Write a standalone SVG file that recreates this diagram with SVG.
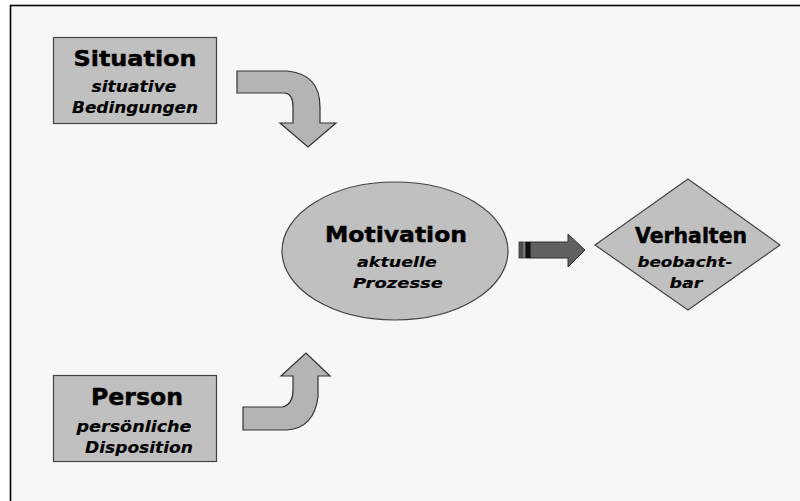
<svg xmlns="http://www.w3.org/2000/svg" width="800" height="501" viewBox="0 0 800 501">
  <style>
    .node { fill: #c0c0c0; stroke: #444; stroke-width: 1.2; }
    .title { font-family: "DejaVu Sans", Verdana, sans-serif; font-weight: bold; fill: #000; stroke: #000; stroke-width: 0.45; text-anchor: middle; }
    .sub { font-family: "DejaVu Sans", Verdana, sans-serif; font-weight: bold; font-style: italic; fill: #000; stroke: #000; stroke-width: 0.15; text-anchor: middle; }
    .curve { fill: #b4b4b4; stroke: #333; stroke-width: 1.2; stroke-linejoin: miter; }
  </style>
  <rect x="0" y="0" width="800" height="501" fill="#ffffff"/>
  <rect x="10.5" y="5.5" width="900" height="600" fill="#f7f7f7" stroke="#000" stroke-width="1.6"/>

  <g id="situation">
    <rect class="node" x="53.5" y="37.5" width="163" height="86"/>
    <text class="title" x="135" y="66" font-size="21.5" textLength="123" lengthAdjust="spacingAndGlyphs">Situation</text>
    <text class="sub" x="134" y="92" font-size="15" textLength="85" lengthAdjust="spacingAndGlyphs">situative</text>
    <text class="sub" x="135" y="113" font-size="15" textLength="126" lengthAdjust="spacingAndGlyphs">Bedingungen</text>
  </g>

  <g id="person">
    <rect class="node" x="53.5" y="375.5" width="163" height="86"/>
    <text class="title" x="137" y="405" font-size="22.5" textLength="92" lengthAdjust="spacingAndGlyphs">Person</text>
    <text class="sub" x="134" y="432" font-size="15" textLength="115" lengthAdjust="spacingAndGlyphs">persönliche</text>
    <text class="sub" x="139" y="453" font-size="15" textLength="108" lengthAdjust="spacingAndGlyphs">Disposition</text>
  </g>

  <g id="motivation">
    <ellipse class="node" cx="395" cy="251" rx="113" ry="69"/>
    <text class="title" x="396" y="242" font-size="21.5" textLength="142" lengthAdjust="spacingAndGlyphs">Motivation</text>
    <text class="sub" x="397" y="267" font-size="13.5" textLength="80" lengthAdjust="spacingAndGlyphs">aktuelle</text>
    <text class="sub" x="398" y="288" font-size="13.5" textLength="90" lengthAdjust="spacingAndGlyphs">Prozesse</text>
  </g>

  <g id="verhalten">
    <polygon class="node" points="688,179 780,245 688,310 595,245"/>
    <text class="title" x="691" y="243" font-size="20.5" textLength="112" lengthAdjust="spacingAndGlyphs">Verhalten</text>
    <text class="sub" x="685" y="267" font-size="13.5" textLength="95" lengthAdjust="spacingAndGlyphs">beobacht-</text>
    <text class="sub" x="686" y="288" font-size="13.5" textLength="33" lengthAdjust="spacingAndGlyphs">bar</text>
  </g>

  <g id="connectors">
    <path class="curve" d="M237,71 L287,71 Q320,74 320,107 L320,123 L336,123 L308,147 L280,123 L293,123 L293,107 Q293,94 285,93 L237,93 Z"/>
    <path class="curve" d="M243,407 L283,407 Q293,404 293,390 L293,376 L281,376 L306,353 L330,376 L318,376 L318,397 Q314,428 287,430 L243,430 Z"/>
    <g>
      <path d="M530,242 L568,242 L568,234 L585,250 L568,267 L568,258 L530,258 Z" fill="#606060" stroke="#333" stroke-width="1"/>
      <rect x="519" y="242" width="3" height="16" fill="#555" stroke="#333" stroke-width="0.8"/>
      <rect x="522.5" y="242" width="3" height="16" fill="#777" stroke="#444" stroke-width="0.8"/>
      <rect x="526" y="242" width="4" height="16" fill="#111" stroke="#111" stroke-width="0.8"/>
    </g>
  </g>
</svg>
